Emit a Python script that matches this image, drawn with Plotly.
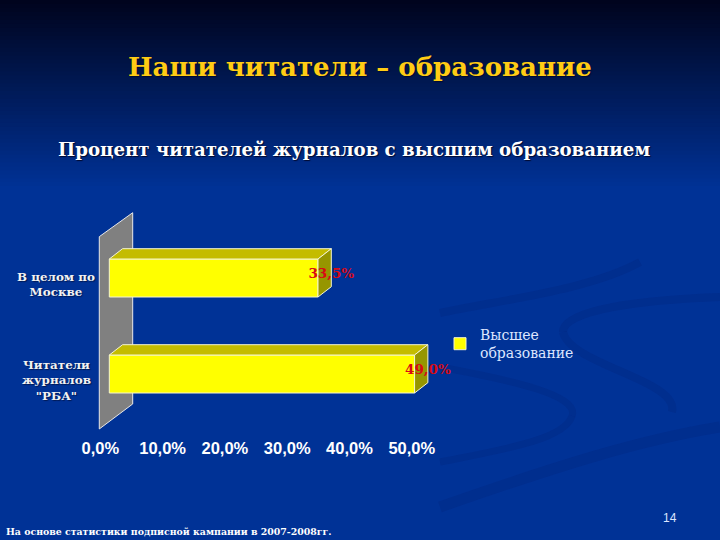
import plotly.graph_objects as go

# data
categories = ['В целом по<br>Москве', 'Читатели<br>журналов<br>"РБА"']
values = [33.5, 49.0]
value_labels = ['33,5%', '49,0%']
series_name = 'Высшее<br>образование'
tick_vals = [0, 10, 20, 30, 40, 50]
tick_labels = ['0,0%', '10,0%', '20,0%', '30,0%', '40,0%', '50,0%']

# pixel layout of the slide
W, H = 720, 540
PX_PER_UNIT = 6.23
PX_PER_CAT = 96
X0_PX = 109.3      # where value 0 sits on the front of the bars
Y0_PX = 278        # centre of first bar
PLOT_BOTTOM = 435
DX = 13.3 / PX_PER_UNIT  # 3d depth in axis units
DY = 10.3 / PX_PER_CAT
BAR_W = 38 / PX_PER_CAT
SERIF = 'DejaVu Serif'


def px(x, y):
    # slide pixels to paper coordinates
    return '%.4f %.4f' % (x / W, 1 - y / H)


fig = go.Figure()

# slide background, vertical gradient
top = (0, 4, 30)
bottom = (0, 50, 150)
n_bands = 48
band_h = 190 / n_bands
for i in range(n_bands):
    t = i / (n_bands - 1)
    c = [round(a + (b - a) * t) for a, b in zip(top, bottom)]
    fig.add_shape(type='rect', xref='paper', yref='paper', layer='below',
                  x0=0, x1=1, y0=1 - i * band_h / H, y1=1 - (i + 1) * band_h / H - 0.002,
                  fillcolor='rgb(%d,%d,%d)' % tuple(c), line_width=0)

# faint swooshes in the slide template
swooshes = [
    ([(440, 313), (500, 300), (590, 290), (640, 262)], 8),
    ([(720, 297), (640, 300), (563, 310), (563, 332)], 8),
    ([(563, 332), (570, 365), (680, 380), (672, 412)], 8),
    ([(440, 367), (510, 380), (580, 395), (572, 416)], 7),
    ([(572, 416), (565, 440), (500, 450), (440, 462)], 7),
    ([(720, 427), (640, 440), (560, 465), (440, 507)], 11),
]
for pts, w in swooshes:
    p = 'M %s C %s, %s, %s' % tuple(px(*q) for q in pts)
    fig.add_shape(type='path', xref='paper', yref='paper', layer='below', path=p,
                  line=dict(color='rgba(0,28,110,0.2)', width=w))

# the back wall of the 3d chart
wall = [(99.3, 236.7), (132.7, 212.7), (132.7, 404), (99.3, 429)]
fig.add_shape(type='path', xref='paper', yref='paper', layer='below',
              path='M ' + ' L '.join(px(*q) for q in wall) + ' Z',
              fillcolor='#808080', line=dict(color='#e8e8e8', width=1))

# front face of the bars
fig.add_trace(go.Bar(x=values, y=list(range(len(values))), orientation='h', width=BAR_W,
                     name=series_name, marker=dict(color='#ffff00', line=dict(color='#f4f4d0', width=1)),
                     hoverinfo='skip'))

# top and right faces, worked out from the values
for i, v in enumerate(values):
    yt = i - BAR_W / 2
    yb = i + BAR_W / 2
    fig.add_trace(go.Scatter(x=[0, DX, v + DX, v, 0], y=[yt, yt - DY, yt - DY, yt, yt],
                             mode='lines', fill='toself', fillcolor='#c4bc00',
                             line=dict(color='#f4f4d0', width=1), showlegend=False, hoverinfo='skip'))
    fig.add_trace(go.Scatter(x=[v, v + DX, v + DX, v, v], y=[yt, yt - DY, yb - DY, yb, yt],
                             mode='lines', fill='toself', fillcolor='#969600',
                             line=dict(color='#f4f4d0', width=1), showlegend=False, hoverinfo='skip'))

# value labels
fig.add_trace(go.Scatter(x=[v + DX for v in values], y=[i - 3 / PX_PER_CAT for i in range(len(values))],
                         mode='text', text=value_labels, textposition='middle center',
                         textfont=dict(family=SERIF, size=13.5, color='#d80a14', weight='bold'),
                         showlegend=False, hoverinfo='skip'))

# category labels, centred like the original
for i, c in enumerate(categories):
    fig.add_annotation(text=c, xref='paper', yref='y', x=56 / W, y=i, yshift=-6, showarrow=False,
                       align='center', xanchor='center', yanchor='middle',
                       font=dict(family=SERIF, size=11.9, color='#f2f2f2', weight='bold',
                                 shadow='1px 1px 1px #001a55'))

# titles and footers
shadow = '1px 1px 1px #000a30'
fig.add_annotation(text='Наши читатели – образование', xref='paper', yref='paper', x=360 / W, y=1 - 67 / H,
                   showarrow=False, xanchor='center', yanchor='middle',
                   font=dict(family=SERIF, size=26, color='#ffcc14', weight='bold', shadow=shadow))
fig.add_annotation(text='Процент читателей журналов с высшим образованием', xref='paper', yref='paper',
                   x=354 / W, y=1 - 149 / H, showarrow=False, xanchor='center', yanchor='middle',
                   font=dict(family=SERIF, size=18.2, color='#ffffff', weight='bold', shadow=shadow))
fig.add_annotation(text='На основе статистики подписной кампании в 2007-2008гг.', xref='paper', yref='paper',
                   x=4 / W, y=1 - 531 / H, showarrow=False, xanchor='left', yanchor='middle',
                   font=dict(family=SERIF, size=9.4, color='#ffffff', weight='bold'))
fig.add_annotation(text='14', xref='paper', yref='paper', x=670 / W, y=1 - 518 / H, showarrow=False,
                   xanchor='center', yanchor='middle',
                   font=dict(family='Liberation Sans', size=12, color='#dde6ff'))

fig.update_layout(
    width=W, height=H,
    margin=dict(l=0, r=0, t=0, b=0),
    paper_bgcolor='rgb(0,50,150)',
    plot_bgcolor='rgba(0,0,0,0)',
    legend=dict(x=446 / W, y=1 - 344 / H, xanchor='left', yanchor='middle', bgcolor='rgba(0,0,0,0)',
                indentation=-6,
                font=dict(family=SERIF, size=14, color='#dde6ff')),
    showlegend=True,
    xaxis=dict(range=[-X0_PX / PX_PER_UNIT, (W - X0_PX) / PX_PER_UNIT], showgrid=False, zeroline=False,
               showline=False, tickmode='array', tickvals=tick_vals, ticktext=tick_labels,
               ticklabelshift=-9, ticklabelstandoff=1,
               tickfont=dict(family='Liberation Sans', size=16.5, color='#ffffff', weight='bold')),
    yaxis=dict(domain=[1 - PLOT_BOTTOM / H, 1],
               range=[(PLOT_BOTTOM - Y0_PX) / PX_PER_CAT, -Y0_PX / PX_PER_CAT],
               showgrid=False, zeroline=False, showline=False, showticklabels=False),
)

fig.write_html("out.html", config=dict(displayModeBar=False),
               post_script="document.body.style.margin='0';")
